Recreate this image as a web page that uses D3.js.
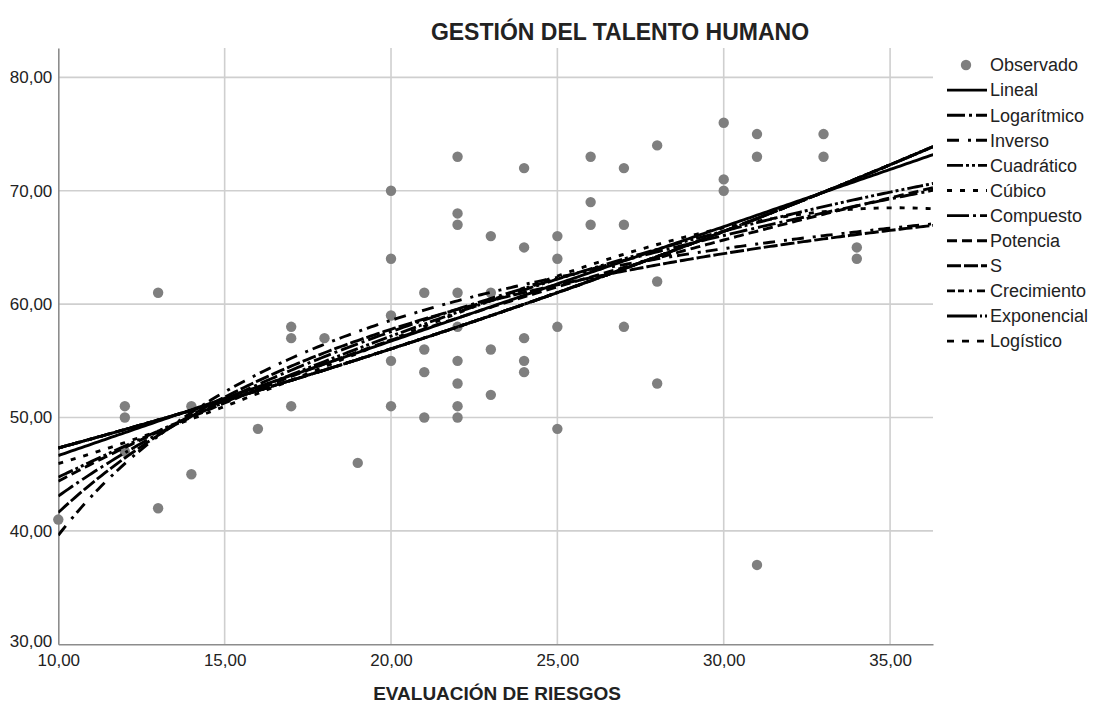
<!DOCTYPE html>
<html>
<head>
<meta charset="utf-8">
<script src="https://cdn.jsdelivr.net/npm/d3@7"></script>
<style>
  body { margin: 0; background: #fff; }
  text { font-family: "Liberation Sans", Arial, sans-serif; }
</style>
</head>
<body>
<div id="chart"></div>
<script>
// observed values: EVALUACIÓN DE RIESGOS (x) and GESTIÓN DEL TALENTO HUMANO (y)
var riesgos = [10, 12, 12, 12, 13, 13, 14, 14, 16, 17, 17, 17, 18, 19,
  20, 20, 20, 20, 20, 21, 21, 21, 21,
  22, 22, 22, 22, 22, 22, 22, 22, 22,
  23, 23, 23, 23, 24, 24, 24, 24, 24, 25, 25, 25, 25,
  26, 26, 26, 27, 27, 27, 28, 28, 28, 30, 30, 30, 31, 31, 31, 33, 33, 34, 34];
var talento = [41, 51, 50, 47, 61, 42, 51, 45, 49, 58, 57, 51, 57, 46,
  70, 64, 59, 55, 51, 61, 56, 54, 50,
  73, 68, 67, 61, 58, 55, 53, 51, 50,
  66, 61, 56, 52, 72, 65, 57, 55, 54, 66, 64, 58, 49,
  73, 69, 67, 72, 67, 58, 74, 62, 53, 76, 71, 70, 75, 73, 37, 75, 73, 65, 64];

var xTicks = [10, 15, 20, 25, 30, 35];
var yTicks = [30, 40, 50, 60, 70, 80];
var modelos = ["Lineal", "Logarítmico", "Inverso", "Cuadrático", "Cúbico", "Compuesto",
  "Potencia", "S", "Crecimiento", "Exponencial", "Logístico"];

// line styles per model
var dashes = {
  "Lineal": null,
  "Logarítmico": "18,4,3,4",
  "Inverso": "12,9,3,5",
  "Cuadrático": "16,3,3,3,3,3",
  "Cúbico": "5,8",
  "Compuesto": "22,4,3,4",
  "Potencia": "10,5",
  "S": "14,3",
  "Crecimiento": "8,3,6,5,3,5",
  "Exponencial": "30,3,2,3",
  "Logístico": "7,8"
};

var W = 1094, H = 714;
var svg = d3.select("#chart").append("svg")
    .attr("width", W)
    .attr("height", H);

var x = d3.scaleLinear().domain([10, 36.29]).range([58.3, 933]);
var y = d3.scaleLinear().domain([30, 82.59]).range([644.3, 48]);

// least squares on a design matrix
function ols(rows, t) {
  var p = rows[0].length, A = [], b = [];
  for (var i = 0; i < p; i++) { A.push(new Array(p).fill(0)); b.push(0); }
  rows.forEach(function(r, k) {
    for (var i = 0; i < p; i++) {
      b[i] += r[i] * t[k];
      for (var j = 0; j < p; j++) A[i][j] += r[i] * r[j];
    }
  });
  for (var c = 0; c < p; c++) {
    var m = c;
    for (var r = c + 1; r < p; r++) if (Math.abs(A[r][c]) > Math.abs(A[m][c])) m = r;
    var tmp = A[c]; A[c] = A[m]; A[m] = tmp;
    var tb = b[c]; b[c] = b[m]; b[m] = tb;
    for (var r = c + 1; r < p; r++) {
      var f = A[r][c] / A[c][c];
      for (var j = c; j < p; j++) A[r][j] -= f * A[c][j];
      b[r] -= f * b[c];
    }
  }
  var beta = new Array(p).fill(0);
  for (var i = p - 1; i >= 0; i--) {
    var s = b[i];
    for (var j = i + 1; j < p; j++) s -= A[i][j] * beta[j];
    beta[i] = s / A[i][i];
  }
  return beta;
}

function dot(a, v) { return a.reduce(function(s, c, i) { return s + c * v[i]; }, 0); }

var terms = {
  lin: function(v) { return [1, v]; },
  log: function(v) { return [1, Math.log(v)]; },
  inv: function(v) { return [1, 1 / v]; },
  quad: function(v) { return [1, v, v * v]; },
  cub: function(v) { return [1, v, v * v, v * v * v]; }
};
var lnY = talento.map(Math.log);

function fitModel(name) {
  var f, beta;
  switch (name) {
    case "Lineal": f = terms.lin; break;
    case "Logarítmico": f = terms.log; break;
    case "Inverso": f = terms.inv; break;
    case "Cuadrático": f = terms.quad; break;
    case "Cúbico": f = terms.cub; break;
    case "Potencia":
      beta = ols(riesgos.map(terms.log), lnY);
      return function(v) { return Math.exp(dot(beta, terms.log(v))); };
    case "S":
      beta = ols(riesgos.map(terms.inv), lnY);
      return function(v) { return Math.exp(dot(beta, terms.inv(v))); };
    default: // compuesto, crecimiento, exponencial, logístico
      beta = ols(riesgos.map(terms.lin), lnY);
      return function(v) { return Math.exp(dot(beta, terms.lin(v))); };
  }
  beta = ols(riesgos.map(f), talento);
  return function(v) { return dot(beta, f(v)); };
}

// grid
svg.append("g").selectAll("line")
  .data(yTicks.filter(function(d) { return d > 30; }))
  .enter().append("line")
    .attr("x1", x.range()[0]).attr("x2", x.range()[1])
    .attr("y1", d => y(d)).attr("y2", d => y(d))
    .style("stroke", "#cfcfcf").style("stroke-width", 1.6);
svg.append("g").selectAll("line")
  .data(xTicks.filter(function(d) { return d > 10; }))
  .enter().append("line")
    .attr("x1", d => x(d)).attr("x2", d => x(d))
    .attr("y1", y.range()[0]).attr("y2", y.range()[1])
    .style("stroke", "#cfcfcf").style("stroke-width", 1.6);

// axes
var gx = svg.append("g")
    .attr("transform", "translate(0," + y.range()[0] + ")")
    .call(d3.axisBottom(x).tickValues(xTicks).tickSize(0).tickPadding(10)
      .tickFormat(d => d3.format(".2f")(d).replace(".", ",")));
gx.select(".domain").style("stroke", "#8c8c8c").style("stroke-width", 1.6);
gx.selectAll("text").style("font-size", "17px").style("fill", "#222")
    .style("font-family", "'Liberation Sans', Arial, sans-serif");

var gy = svg.append("g")
    .attr("transform", "translate(" + x.range()[0] + ",0)")
    .call(d3.axisLeft(y).tickValues(yTicks).tickSize(0).tickPadding(6)
      .tickFormat(d => d3.format(".2f")(d).replace(".", ",")));
gy.select(".domain").style("stroke", "#8c8c8c").style("stroke-width", 1.6);
gy.selectAll("text").style("font-size", "17px").style("fill", "#222")
    .style("font-family", "'Liberation Sans', Arial, sans-serif");
gy.selectAll(".tick").filter(d => d === 30).select("text").attr("dy", "0.1em");

// points
svg.append("g").selectAll("circle")
  .data(riesgos.map(function(v, i) { return [v, talento[i]]; }))
  .enter().append("circle")
    .attr("cx", d => x(d[0]))
    .attr("cy", d => y(d[1]))
    .attr("r", 5.2)
    .style("fill", "#7f7f7f");

// fitted curves
svg.append("clipPath").attr("id", "plot").append("rect")
    .attr("x", x.range()[0]).attr("y", y.range()[1])
    .attr("width", x.range()[1] - x.range()[0])
    .attr("height", y.range()[0] - y.range()[1]);

var xs = d3.range(x.domain()[0], x.domain()[1] + 0.05, 0.1);
var line = d3.line().x(d => x(d[0])).y(d => y(d[1]));
var gc = svg.append("g").attr("clip-path", "url(#plot)");
modelos.forEach(function(m) {
  var fn = fitModel(m);
  gc.append("path")
    .datum(xs.map(function(v) { return [v, fn(v)]; }))
    .attr("d", line)
    .style("fill", "none")
    .style("stroke", "#000")
    .style("stroke-width", 2.9)
    .style("stroke-dasharray", dashes[m]);
});

// legend
var lg = svg.append("g");
var rows = ["Observado"].concat(modelos);
rows.forEach(function(name, i) {
  var yy = 65 + i * 25.1;
  if (i === 0) {
    lg.append("circle").attr("cx", 966).attr("cy", yy).attr("r", 5.2).style("fill", "#7f7f7f");
  } else {
    lg.append("line").attr("x1", 947).attr("x2", 987).attr("y1", yy).attr("y2", yy)
      .style("stroke", "#000").style("stroke-width", 2.9)
      .style("stroke-dasharray", dashes[name]);
  }
  lg.append("text").attr("x", 990).attr("y", yy).attr("dy", "0.35em")
    .style("font-size", "18px").style("fill", "#222").text(name);
});

// titles
svg.append("text").attr("x", 620).attr("y", 40).attr("text-anchor", "middle")
  .style("font-size", "23px").style("font-weight", "bold").style("fill", "#222")
  .text("GESTIÓN DEL TALENTO HUMANO");
svg.append("text").attr("x", 497).attr("y", 700).attr("text-anchor", "middle")
  .style("font-size", "19px").style("font-weight", "bold").style("fill", "#222")
  .text("EVALUACIÓN DE RIESGOS");
</script>
</body>
</html>
